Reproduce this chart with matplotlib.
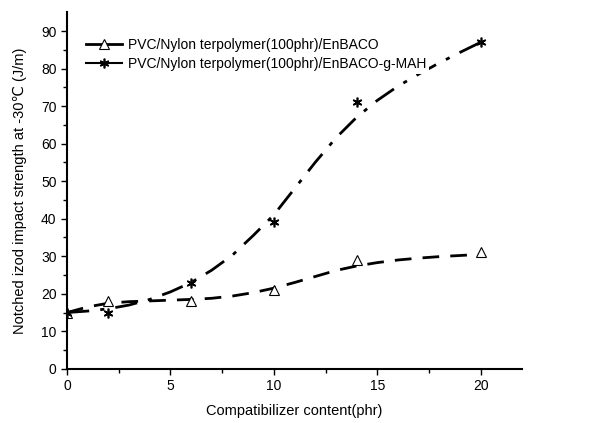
import matplotlib
matplotlib.use("Agg")
import matplotlib.pyplot as plt
from matplotlib.lines import Line2D

plt.rcParams["font.family"] = ["Liberation Sans", "DejaVu Sans"]

# measured points
content = [0, 2, 6, 10, 14, 20]
enbaco = [15, 18, 18, 21, 29, 31]
enbaco_mah = [15, 15, 23, 39, 71, 87]

# fitted trend curves
curve_x = [0, 1, 2, 3, 4, 5, 6, 7, 8, 9, 10, 11, 12, 13, 14, 15, 16, 17, 18, 19, 20]
curve_enbaco = [15, 16.5, 17.5, 17.9, 18.1, 18.3, 18.5, 18.8, 19.4, 20.3, 21.5,
                23.0, 24.6, 26.2, 27.4, 28.3, 29.0, 29.5, 29.9, 30.2, 30.5]
curve_mah = [15, 15.4, 16.0, 17.0, 18.5, 20.5, 23.0, 26.3, 30.3, 35.5, 41.0,
             48.0, 55.0, 61.5, 67.0, 71.5, 75.3, 78.5, 81.5, 84.3, 87.0]

label_a = "PVC/Nylon terpolymer(100phr)/EnBACO"
label_b = "PVC/Nylon terpolymer(100phr)/EnBACO-g-MAH"

fig = plt.figure(figsize=(6.01, 4.23), dpi=100)
ax = fig.add_axes([0.1115, 0.128, 0.757, 0.843])

ax.plot(curve_x, curve_enbaco, color="black", lw=2.0, dashes=(6, 4))
ax.plot(curve_x, curve_mah, color="black", lw=2.0, dashes=(8, 4, 1.5, 4))
ax.plot(content, enbaco, ls="none", marker="^", ms=7, mfc="white", mec="black", mew=0.8)
ax.plot(content, enbaco_mah, ls="none", marker=(6, 2, 0), ms=7, color="black", mew=1.2)

handles = [
    Line2D([], [], color="black", lw=2.0, marker="^", ms=7,
           mfc="white", mec="black", mew=0.8),
    Line2D([], [], color="black", lw=1.5, marker=(6, 2, 0), ms=7, mew=1.2),
]
leg = ax.legend(handles, [label_a, label_b], loc="upper left", bbox_to_anchor=(0.035, 0.935),
                frameon=True, fancybox=False, fontsize=10, handlelength=2.6,
                handletextpad=0.45, labelspacing=0.35, borderaxespad=0, borderpad=0.2)
leg.get_frame().set_edgecolor("none")
leg.get_frame().set_facecolor("white")
leg.get_frame().set_alpha(1)

ax.set_xlim(0, 22)
ax.set_ylim(0, 95)
ax.set_xticks([0, 5, 10, 15, 20])
ax.set_xticks([2.5, 7.5, 12.5, 17.5], minor=True)
ax.set_yticks(range(0, 91, 10))
ax.set_yticks(range(5, 95, 10), minor=True)
ax.tick_params(direction="out", labelsize=10, length=4, width=1)
ax.tick_params(which="minor", direction="out", length=3, width=1)
for side in ["top", "right"]:
    ax.spines[side].set_visible(False)
for side in ["left", "bottom"]:
    ax.spines[side].set_linewidth(1.5)

ax.set_xlabel("Compatibilizer content(phr)", fontsize=10.5, labelpad=8)
ax.set_ylabel("Notched izod impact strength at -30\u2103 (J/m)", fontsize=10.5, labelpad=10)

fig.savefig("out.png", dpi=100)
